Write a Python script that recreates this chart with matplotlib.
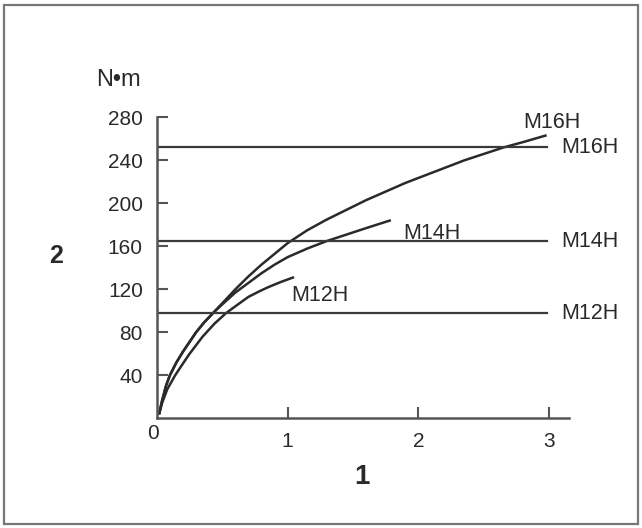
#!/usr/bin/python3

import matplotlib
matplotlib.use('Agg')
import matplotlib.pyplot as plt
from matplotlib.patches import Rectangle

# curves (x in "1" units, y in N*m)
m16_x = [0.02, 0.04, 0.07, 0.1, 0.15, 0.2, 0.25, 0.3, 0.36, 0.43, 0.5, 0.6, 0.7, 0.8,
         0.9, 1.0, 1.15, 1.3, 1.45, 1.6, 1.75, 1.9, 2.05, 2.2, 2.35, 2.5, 2.65, 2.8, 2.97]
m16_y = [5, 16, 30, 40, 52, 62, 71, 80, 89, 98, 107, 120, 132, 143,
         153, 163, 175, 185, 194, 203, 211, 219, 226, 233, 240, 246, 252, 257, 263]

m14_x = [0.02, 0.04, 0.07, 0.1, 0.15, 0.2, 0.25, 0.3, 0.36, 0.43, 0.5, 0.6, 0.7, 0.8,
         0.9, 1.0, 1.15, 1.3, 1.45, 1.6, 1.78]
m14_y = [5, 16, 30, 40, 52, 62, 71, 80, 89, 98, 106, 117, 126, 135,
         143, 150, 158, 165, 171, 177, 184]

m12_x = [0.02, 0.04, 0.08, 0.14, 0.2, 0.25, 0.3, 0.35, 0.44, 0.53, 0.62, 0.7, 0.78,
         0.85, 0.95, 1.04]
m12_y = [5, 14, 27, 40, 51, 60, 68, 76, 88, 98, 106, 113, 118,
         122, 127, 131]

# limit lines
limit_names = ['M16H', 'M14H', 'M12H']
limit_vals = [252, 165, 98]
limit_end = 2.98

xticks = [1, 2, 3]
yticks = [40, 80, 120, 160, 200, 240, 280]

ink = '#2a2a2a'
axc = '#555555'


def main():
    plt.rcParams['font.family'] = ['Liberation Sans', 'DejaVu Sans']

    fig = plt.figure(figsize=(6.42, 5.28), dpi=100)
    ax = fig.add_axes([0.2441, 0.2074, 0.6422, 0.5704])

    # frame round the whole picture
    fig.patches.append(Rectangle((3.5 / 642, 4 / 528), 634 / 642, 519 / 528,
                                 transform=fig.transFigure, fill=False,
                                 edgecolor='#777777', lw=1.6))

    for xs, ys in [(m16_x, m16_y), (m14_x, m14_y), (m12_x, m12_y)]:
        ax.plot(xs, ys, color=ink, lw=1.8, solid_joinstyle='round')

    for name, v in zip(limit_names, limit_vals):
        ax.plot([0, limit_end], [v, v], color='#3a3a3a', lw=1.6)
        ax.text(3.09, v, name, fontsize=15.5, color=ink,
                ha='left', va='center', clip_on=False)

    # labels at the curve ends
    ax.text(2.80, 275, 'M16H', fontsize=15.5, color=ink, ha='left', va='center')
    ax.text(1.88, 172, 'M14H', fontsize=15.5, color=ink, ha='left', va='center')
    ax.text(1.03, 114, 'M12H', fontsize=15.5, color=ink, ha='left', va='center')

    ax.set_xlim(0, 3.15)
    ax.set_ylim(0, 280)
    ax.set_xticks(xticks)
    ax.set_yticks(yticks)
    ax.set_xticklabels([str(t) for t in xticks])
    ax.set_yticklabels([str(t) for t in yticks])
    ax.tick_params(direction='in', length=8, width=1.5, color=axc,
                   labelsize=15, labelcolor=ink, pad=10)

    for s in ['top', 'right']:
        ax.spines[s].set_visible(False)
    for s in ['left', 'bottom']:
        ax.spines[s].set_color(axc)
        ax.spines[s].set_linewidth(1.8)

    ax.text(-0.03, -14, '0', fontsize=15, color=ink,
            ha='center', va='center', clip_on=False)

    ax.set_xlabel('1', fontsize=20, fontweight='bold', color=ink)
    ax.xaxis.set_label_coords(0.497, -0.194)
    ax.set_ylabel('2', fontsize=18, fontweight='bold', color=ink, rotation=0)
    ax.yaxis.set_label_coords(-0.245, 0.541)
    ax.xaxis.label.set_va('center')
    ax.yaxis.label.set_va('center')

    fig.text(118 / 642, 1 - 80 / 528, 'N\u2022m', fontsize=17, color=ink,
             ha='center', va='center')

    fig.savefig('out.png', dpi=100)


if __name__ == '__main__':
    main()
